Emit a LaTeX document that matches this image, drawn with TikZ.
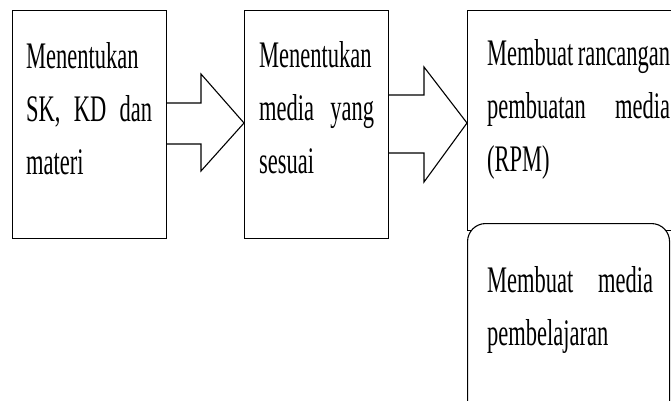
\documentclass[tikz,border=0pt]{standalone}
\usepackage{fontspec}
\setmainfont{Liberation Serif}[FakeStretch=0.6]
\newcommand\nohyph[1]{\hyphenpenalty=10000\relax\exhyphenpenalty=10000\relax\tolerance=10000\relax\baselineskip=#1pt\relax}
\begin{document}
\begin{tikzpicture}[x=1pt,y=-1pt,
  box/.style={draw=black, line width=1.1pt, fill=white, inner sep=0pt, anchor=north west},
  txt/.style={inner sep=0pt, anchor=base west, align=justify, font=\fontsize{37.5}{53}\selectfont},
  blockarrow/.style={draw=black, line width=1.1pt, fill=white, line join=miter}]
\useasboundingbox (0,0) rectangle (671,400);
\clip (0,0) rectangle (671,400);
% boxes
\node[box, minimum width=154pt, minimum height=228pt] (b1) at (12,10) {};
\node[box, minimum width=144pt, minimum height=228pt] (b2) at (244,10) {};
\node[box, minimum width=230pt, minimum height=220pt] (b3) at (467,10) {};
\node[box, minimum width=202pt, minimum height=220pt, rounded corners=18pt] (b4) at (467,223) {};
% block arrows
\filldraw[blockarrow] (b1.east |- 0,103) -- (201,103) -- (201,74) -- (b2.west |- 0,123)
  -- (201,171) -- (201,144) -- (b1.east |- 0,144);
\filldraw[blockarrow] (b2.east |- 0,95) -- (424,95) -- (424,67) -- (b3.west |- 0,123)
  -- (424,182) -- (424,153) -- (b2.east |- 0,153);
% texts
\node[txt, text width=126pt] (t1) at (26,68) {\nohyph{53.5}Menentukan SK, KD dan materi};
\node[txt, text width=115pt] (t2) at (259,67) {\nohyph{54}Menentukan media yang sesuai};
\node[txt, text width=183pt] (t3) at (487,65) {\nohyph{51.5}Membuat rancangan pembuatan media (RPM)};
\node[txt, text width=166pt] (t4) at (487,292) {\nohyph{51}Membuat media pembelajaran};
\end{tikzpicture}
\end{document}
